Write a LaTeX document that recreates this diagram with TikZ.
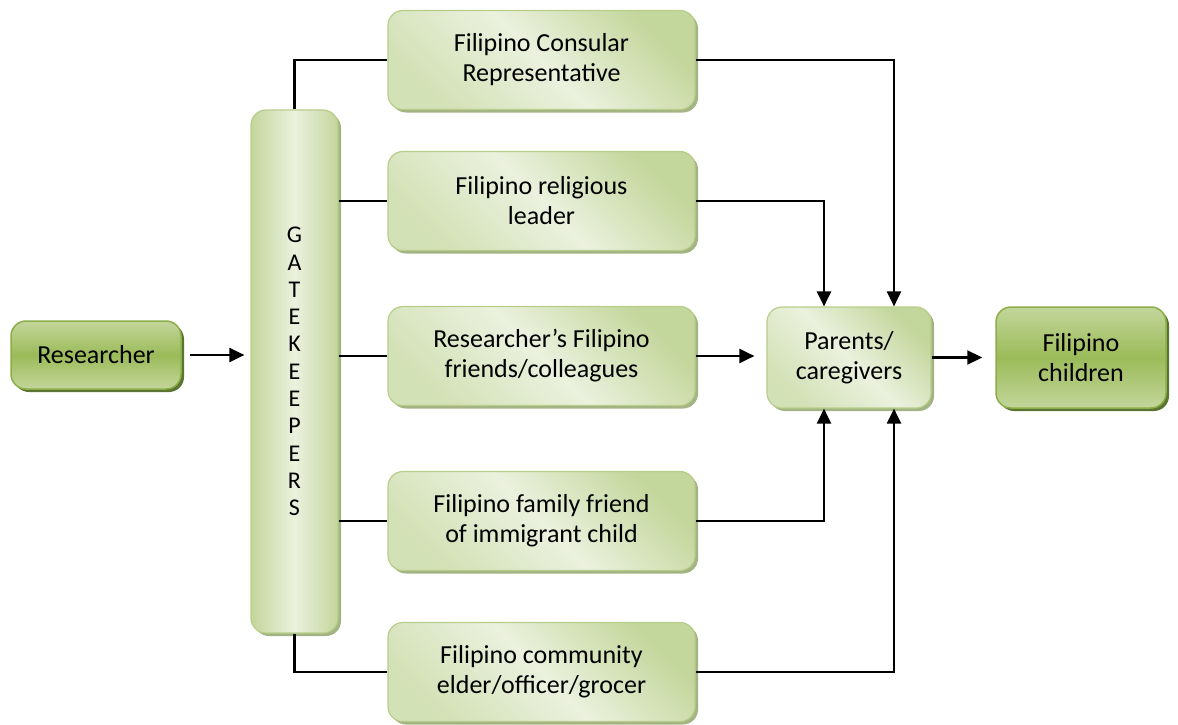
\documentclass[tikz,border=0pt]{standalone}
\usepackage{fontspec}
\setmainfont{Carlito}
\usetikzlibrary{arrows.meta,shadows}
\definecolor{paleleaf}{HTML}{EBF1DE}
\definecolor{leaf}{HTML}{C3D69B}
\definecolor{leafedge}{HTML}{B7CD89}
\definecolor{leafshade}{HTML}{A3B384}
\definecolor{moss}{HTML}{9BBB59}
\definecolor{mossedge}{HTML}{8CAE48}
\definecolor{mossshade}{HTML}{5C7431}
\tikzset{
  boxtext/.style={align=center, text=black, font=\fontsize{26}{30}\selectfont},
  lightbox/.style={boxtext, draw=leafedge, line width=1.2pt, rounded corners=15pt,
    top color=leaf, bottom color=leaf!60!paleleaf, middle color=paleleaf, shading angle=-45,
    minimum width=307pt, minimum height=99pt,
    general shadow={fill=leafshade, shadow xshift=3pt, shadow yshift=-3pt}},
  gatebox/.style={boxtext, draw=leafedge, line width=1.2pt, rounded corners=15pt,
    left color=leaf, right color=leaf, middle color=paleleaf,
    font=\fontsize{24}{27.3}\selectfont,
    general shadow={fill=leafshade, shadow xshift=3pt, shadow yshift=-3pt}},
  darkbox/.style={boxtext, draw=mossedge, line width=1.5pt, rounded corners=15pt,
    top color=leaf, bottom color=leaf, middle color=moss,
    general shadow={fill=mossshade, shadow xshift=3pt, shadow yshift=-3pt}},
  link/.style={line width=2.2pt, black},
  arr/.style={link, -{Triangle[length=15pt,width=14pt]}}
}
\begin{document}
\begin{tikzpicture}[x=1pt,y=-1pt]
\useasboundingbox (0,0) rectangle (1178,725);
% researcher and gatekeepers
\node[darkbox, minimum width=170pt, minimum height=68pt] (researcher) at (96,355) {Researcher};
\node[gatebox, minimum width=87pt, minimum height=523pt] (gate) at (294.5,371.5) {G\\A\\T\\E\\K\\E\\E\\P\\E\\R\\S};
% the five routes
\node[lightbox] (consular) at (541.5,60) {Filipino Consular\\Representative};
\node[lightbox] (religious) at (541.5,201) {Filipino religious\\leader};
\node[lightbox] (friends) at (541.5,356) {Researcher’s Filipino\\friends/colleagues};
\node[lightbox] (family) at (541.5,521) {Filipino family friend\\of immigrant child};
\node[lightbox] (community) at (541.5,672) {Filipino community\\elder/officer/grocer};
% parents and children
\node[lightbox, minimum width=164pt, minimum height=101pt] (parents) at (849,357.5) {Parents/\\caregivers};
\node[darkbox, minimum width=170pt, minimum height=101pt] (children) at (1081,357.5) {Filipino\\children};
% connectors
\draw[arr, shorten <=8pt, shorten >=6pt] (researcher.east) -- (researcher.east -| gate.west);
\draw[link] (gate.north) |- (consular.west);
\foreach \b in {religious,friends,family} \draw[link] (gate.east |- \b.west) -- (\b.west);
\draw[link] (gate.south) |- (community.west);
\draw[arr] (consular.east) -| ([xshift=45pt]parents.north);
\draw[arr] (religious.east) -| ([xshift=-25pt]parents.north);
\draw[arr, shorten >=12pt] (friends.east) -- (friends.east -| parents.west);
\draw[arr] (family.east) -| ([xshift=-25pt]parents.south);
\draw[arr] (community.east) -| ([xshift=45pt]parents.south);
\draw[arr, shorten >=13pt] (parents.east) -- (parents.east -| children.west);
\end{tikzpicture}
\end{document}
